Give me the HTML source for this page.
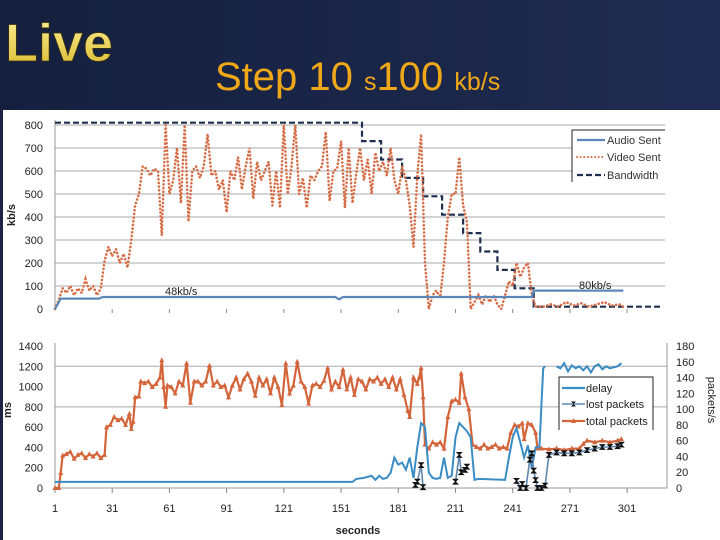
<!DOCTYPE html>
<html><head><meta charset="utf-8">
<style>
html,body{margin:0;padding:0;width:720px;height:540px;overflow:hidden;background:#fff}
svg{display:block}
text{font-family:"Liberation Sans",sans-serif}
</style></head>
<body>
<svg id="s" width="720" height="540" viewBox="0 0 720 540">
<defs>
<linearGradient id="hdr" x1="0" y1="0" x2="1" y2="0"><stop offset="0" stop-color="#15203f"/><stop offset="1" stop-color="#1f2b50"/></linearGradient>
<linearGradient id="live" x1="0" y1="0" x2="0" y2="1"><stop offset="0" stop-color="#fff39a"/><stop offset="1" stop-color="#d8b82a"/></linearGradient>
</defs>
<rect x="0" y="0" width="720" height="110" fill="url(#hdr)"/>
<rect x="0" y="110" width="3" height="430" fill="#1a2546"/>
<text x="5" y="61" font-size="53" font-weight="bold" fill="url(#live)" stroke="#3a3010" stroke-width="0.8" textLength="108" lengthAdjust="spacingAndGlyphs">Live</text>
<text x="215" y="90" fill="#f0a818"><tspan font-size="40">Step 10 </tspan><tspan font-size="25">s</tspan><tspan font-size="40">100 </tspan><tspan font-size="25">kb/s</tspan></text>
<g id="g"></g>
</svg>
<script>
// ---- top chart data ----
const audioT=[1,2,4,24,26,148,150,152,251,252,299];
const audioV=[0,15,45,45,52,52,42,52,52,80,80];
const videoT=[1,3,5,7,9,11,13,15,17,19,21,23,25,27,29,31,33,35,37,39,41,43,45,47,49,51,53,55,57,59,61,63,65,67,69,71,73,75,77,79,81,83,85,87,89,91,93,95,97,99,101,103,105,107,109,111,113,115,117,119,121,123,125,127,129,131,133,135,137,139,141,143,145,147,149,151,153,155,157,159,161,163,165,167,169,171,173,175,177,179,181,183,185,187,189,191,193,195,197,199,201,203,205,207,209,211,213,215,217,219,221,223,225,227,229,231,233,235,237,239,241,243,245,247,249,251,253,257,261,265,269,273,277,281,285,289,293,297,299];
const videoV=[0,40,90,70,100,60,90,70,130,80,100,60,90,210,270,230,260,200,240,180,300,450,500,620,610,580,610,600,320,800,500,560,700,460,800,380,600,620,570,620,760,580,600,520,560,420,600,560,660,520,620,700,480,640,560,600,640,450,600,440,800,500,620,800,500,570,440,580,560,600,620,770,470,600,610,730,440,700,460,590,700,560,650,500,680,600,640,580,700,560,500,620,560,450,270,580,760,200,0,60,80,50,200,400,500,500,660,450,380,0,30,60,20,60,30,60,20,0,60,120,100,200,140,180,200,60,10,10,20,10,30,15,25,10,20,30,15,20,10];
const bwT=[1,162,172,183,194,204,215,224,233,242,252,319];
const bwV=[810,730,650,570,490,410,330,250,170,90,10];
const topTicks=[0,100,200,300,400,500,600,700,800];
const xTicks=[1,31,61,91,121,151,181,211,241,271,301];
// ---- bottom chart data ----
const delayT=[1,157,159,163,167,169,171,173,175,177,179,181,183,185,187,189,191,193,195,197,199,201,203,205,207,209,211,213,215,217,219,221,223,237,239,241,243,245,247,249,251,253,255,257,258,261,264,266,268,270,272,274,276,278,280,282,284,286,288,290,292,294,296,298];
const delayV=[60,60,90,100,120,80,120,90,100,150,300,230,250,180,300,100,400,640,600,150,100,90,100,300,100,120,500,640,600,560,500,80,90,80,300,500,590,450,300,420,200,400,400,1180,1200,null,1200,1180,1230,1150,1210,1180,1200,1160,1200,1140,1200,1220,1170,1200,1180,1190,1200,1230];
const lostT=[190,191,193,194,200,211,213,214,216,217,220,243,245,246,248,250,251,252,253,254,256,258,260,264,268,272,276,280,284,288,292,296,298];
const lostV=[4,8,29,1,null,8,42,20,23,27,null,9,0,5,0,36,44,22,10,0,0,3,42,45,44,44,45,48,50,52,52,53,55];
const totalT=[1,3,4,5,7,9,11,13,15,17,19,21,23,25,27,28,30,32,34,36,38,40,41,42,43,45,46,48,50,52,54,56,57,58,59,60,62,64,66,68,70,72,74,76,78,80,82,84,86,88,90,92,94,96,98,100,102,104,106,108,110,112,114,116,118,120,122,124,126,128,130,132,134,136,138,140,142,144,146,148,150,152,154,156,158,160,162,164,166,168,170,172,174,176,178,180,182,184,186,187,189,191,192,193,194,195,197,199,201,203,205,207,209,211,213,214,216,218,220,222,224,226,228,230,232,234,236,238,240,242,244,246,247,249,251,253,254,256,260,264,268,272,276,278,280,284,288,292,296,298];
const totalV=[0,0,19,41,43,46,37,42,44,38,43,40,44,38,42,77,80,90,86,88,80,94,75,84,115,116,135,133,135,128,132,140,162,128,103,130,128,120,135,130,158,108,135,135,130,135,155,130,135,128,130,115,130,140,125,138,145,135,117,140,130,138,120,140,128,105,158,120,130,160,135,128,107,130,132,128,136,152,125,135,128,150,125,140,118,138,135,125,138,135,140,132,138,128,140,125,138,118,98,90,140,132,140,152,115,55,50,58,55,58,50,90,110,112,108,145,115,100,55,52,50,55,50,52,55,50,52,50,70,80,78,82,62,82,80,70,50,50,49,50,48,50,50,56,60,58,60,58,60,62];
const botLeftTicks=[0,200,400,600,800,1000,1200,1400];
const botRightTicks=[0,20,40,60,80,100,120,140,160,180];

const NS='http://www.w3.org/2000/svg';
const G=document.getElementById('g');
function mk(tag,attrs,parent){const e=document.createElementNS(NS,tag);for(const k in attrs)e.setAttribute(k,attrs[k]);(parent||G).appendChild(e);return e;}
const X0=55,PX=1.907;
const xs=s=>X0+(s-1)*PX;
const yTop=v=>309-v*0.23;
const yL=v=>488-v*142/1400;
const yR=v=>488-v*142/180;
function pathOf(T,V,fy){let d='',pen=false;for(let i=0;i<T.length;i++){if(V[i]==null){pen=false;continue;}d+=(pen?'L':'M')+xs(T[i]).toFixed(1)+' '+fy(V[i]).toFixed(1);pen=true;}return d;}

// top chart grid
for(const v of topTicks){
  if(v>0){const l=mk('line',{x1:X0,x2:665,y1:yTop(v),y2:yTop(v),stroke:'#a8a8a8','stroke-width':1});
  }
  const t=mk('text',{x:43,y:yTop(v)+4,'font-size':11,'text-anchor':'end',fill:'#222'});t.textContent=v;
  
}
let a=mk('line',{x1:X0,x2:X0,y1:120,y2:309,stroke:'#999'});
for(const s of xTicks){if(s>1){const l=mk('line',{x1:xs(s),x2:xs(s),y1:309,y2:313,stroke:'#888'});}}
let t=mk('text',{transform:'translate(15,215) rotate(-90)','font-size':11,'font-weight':'bold','text-anchor':'middle',fill:'#222'});t.textContent='kb/s';


// bandwidth step
let bd='M'+xs(bwT[0])+' '+yTop(bwV[0]);
for(let i=1;i<bwT.length;i++){bd+='H'+xs(bwT[i]).toFixed(1);if(i<bwV.length)bd+='V'+yTop(bwV[i]).toFixed(1);}
let p=mk('path',{d:bd,fill:'none',stroke:'#1f2f4f','stroke-width':2.2,'stroke-dasharray':'6 3'});

p=mk('path',{d:pathOf(videoT,videoV,yTop),fill:'none',stroke:'#d66d47','stroke-width':2.6,'stroke-dasharray':'0.1 3.6','stroke-linecap':'round'});

p=mk('path',{d:pathOf(audioT,audioV,yTop),fill:'none',stroke:'#5b88b8','stroke-width':2.2});

t=mk('text',{x:165,y:295,'font-size':11,fill:'#222'});t.textContent='48kb/s';
t=mk('text',{x:579,y:289,'font-size':11,fill:'#222'});t.textContent='80kb/s';
// top legend
let lg=mk('g',{});
mk('rect',{x:572,y:130,width:93,height:55,fill:'#fff'},lg);
mk('path',{d:'M572 182V130H665',fill:'none',stroke:'#222','stroke-width':1},lg);
mk('line',{x1:577,x2:605,y1:140,y2:140,stroke:'#5b88b8','stroke-width':2.2},lg);
mk('line',{x1:577,x2:605,y1:157,y2:157,stroke:'#d66d47','stroke-width':2,'stroke-dasharray':'0.1 3.5','stroke-linecap':'round'},lg);
mk('line',{x1:577,x2:605,y1:175,y2:175,stroke:'#1f2f4f','stroke-width':2.2,'stroke-dasharray':'6 3'},lg);
[['Audio Sent',144],['Video Sent',161],['Bandwidth',179]].forEach(([s,y])=>{const e=mk('text',{x:607,y:y,'font-size':11,fill:'#333'},lg);e.textContent=s;});

// bottom chart grid
for(const v of [800,1200]){const l=mk('line',{x1:X0,x2:667,y1:yL(v),y2:yL(v),stroke:'#a8a8a8'});}
for(const v of botLeftTicks){const e=mk('text',{x:43,y:yL(v)+4,'font-size':11,'text-anchor':'end',fill:'#222'});e.textContent=v;}
for(const v of botRightTicks){const e=mk('text',{x:676,y:yR(v)+4,'font-size':11,fill:'#222'});e.textContent=v;}
a=mk('path',{d:'M55 343V488H667V343',fill:'none',stroke:'#999'});
for(const s of xTicks){
  const l=mk('line',{x1:xs(s),x2:xs(s),y1:488,y2:493,stroke:'#888'});
  const e=mk('text',{x:xs(s),y:512,'font-size':11,'text-anchor':'middle',fill:'#222'});e.textContent=s;
}
t=mk('text',{x:358,y:534,'font-size':11,'font-weight':'bold','text-anchor':'middle',fill:'#222'});t.textContent='seconds';
t=mk('text',{transform:'translate(11,410) rotate(-90)','font-size':11,'font-weight':'bold','text-anchor':'middle',fill:'#222'});t.textContent='ms';
t=mk('text',{transform:'translate(708,400) rotate(90)','font-size':11,'text-anchor':'middle',fill:'#222'});t.textContent='packets/s';

// total packets
p=mk('path',{d:pathOf(totalT,totalV,yR),fill:'none',stroke:'#d4643a','stroke-width':2.2});

for(let i=0;i<totalT.length;i++){const x=xs(totalT[i]),y=yR(totalV[i]);
  const m=mk('path',{d:`M${x-2.5} ${y+2}L${x} ${y-3}L${x+2.5} ${y+2}Z`,fill:'#d4643a'});
  }
// delay
p=mk('path',{d:pathOf(delayT,delayV,yL),fill:'none',stroke:'#3a8cc4','stroke-width':2});

// lost packets
p=mk('path',{d:pathOf(lostT,lostV,yR),fill:'none',stroke:'#5f87ad','stroke-width':1.6});

for(let i=0;i<lostT.length;i++){if(lostV[i]==null)continue;const x=xs(lostT[i]),y=yR(lostV[i]);
  const m=mk('path',{d:`M${x-2.5} ${y-2.5}H${x+2.5}L${x-2.5} ${y+2.5}H${x+2.5}Z`,fill:'#111',stroke:'#111','stroke-width':0.8});
  }
// bottom legend
lg=mk('g',{});
mk('rect',{x:559,y:377,width:94,height:54,fill:'#fff'},lg);
mk('path',{d:'M559 430V377H653V430',fill:'none',stroke:'#222'},lg);
mk('line',{x1:562,x2:585,y1:388,y2:388,stroke:'#3a8cc4','stroke-width':2.2},lg);
mk('line',{x1:562,x2:585,y1:404,y2:404,stroke:'#5f87ad','stroke-width':1.6},lg);
mk('path',{d:'M571 401.5H576L571 406.5H576Z',fill:'#111'},lg);
mk('line',{x1:562,x2:585,y1:421,y2:421,stroke:'#d4643a','stroke-width':2.2},lg);
mk('path',{d:'M571 423L573.5 418L576 423Z',fill:'#d4643a'},lg);
[['delay',392],['lost packets',408],['total packets',425]].forEach(([s,y])=>{const e=mk('text',{x:586,y:y,'font-size':11,fill:'#222'},lg);e.textContent=s;});
</script>
</body></html>
